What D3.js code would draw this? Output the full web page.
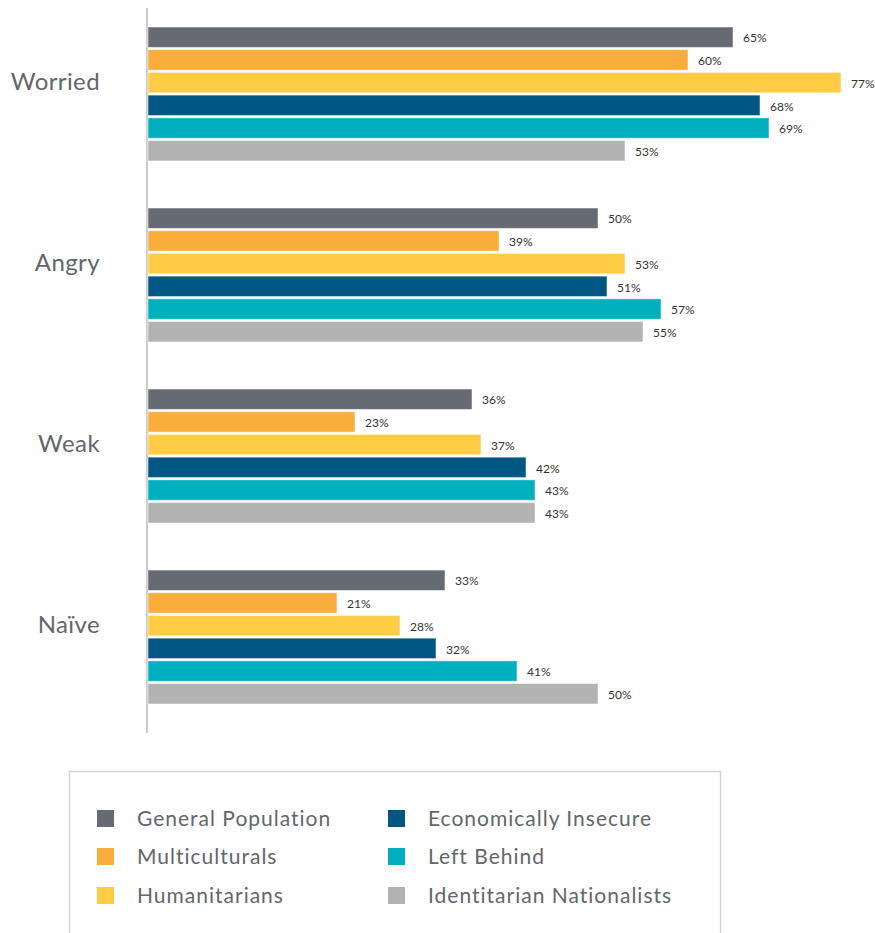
<!DOCTYPE html>
<html>
<head>
<meta charset="utf-8">
<script src="https://cdn.jsdelivr.net/npm/d3@7"></script>
<style>
  body { margin: 0; background: #fff; }
  svg { display: block; font-family: Lato, "Open Sans", sans-serif; }
</style>
</head>
<body>
<div id="chart"></div>
<script>
// --- Data ---
const categories = ["Worried", "Angry", "Weak", "Naïve"];
const series = [
  "General Population",
  "Multiculturals",
  "Humanitarians",
  "Economically Insecure",
  "Left Behind",
  "Identitarian Nationalists"
];
const seriesColors = ["#666b73", "#f9ae3b", "#ffcc44", "#005784", "#00b0bf", "#b3b3b3"];
// values[series][category]
const values = [
  [65, 50, 36, 33],
  [60, 39, 23, 21],
  [77, 53, 37, 28],
  [68, 51, 42, 32],
  [69, 57, 43, 41],
  [53, 55, 43, 50]
];

const width = 875;
const height = 933;

const svg = d3.select("#chart")
  .append("svg")
  .attr("width", width)
  .attr("height", height);

// Scales
const x = d3.scaleLinear().domain([0, 100]).range([148, 1048]);
const y0 = d3.scaleBand().domain(categories).range([27, 704]).paddingInner(0.26).paddingOuter(0);
const y1 = d3.scaleBand().domain(series).range([0, y0.bandwidth()]).paddingInner(0.1);
const color = d3.scaleOrdinal().domain(series).range(seriesColors);

// Vertical axis line
svg.append("line")
  .attr("x1", 147).attr("x2", 147)
  .attr("y1", 8).attr("y2", 733)
  .attr("stroke", "#cccccc")
  .attr("stroke-width", 2);

// Category labels
svg.selectAll(".cat-label")
  .data(categories)
  .enter()
  .append("text")
  .attr("class", "cat-label")
  .attr("x", 100)
  .attr("y", (d) => y0(d) + y0.bandwidth() / 2 - 12)
  .attr("dy", "0.35em")
  .attr("text-anchor", "end")
  .style("font-size", "24px")
  .style("letter-spacing", "0.4px")
  .style("fill", "#63666c")
  .text((d) => d);

// Bars
const rows = [];
series.forEach((s, si) => {
  categories.forEach((c, ci) => {
    rows.push({ series: s, category: c, value: values[si][ci] });
  });
});

const groups = svg.selectAll(".group")
  .data(rows)
  .enter()
  .append("g")
  .attr("class", "group");

groups.append("rect")
  .attr("x", x(0))
  .attr("y", (d) => y0(d.category) + y1(d.series))
  .attr("width", (d) => x(d.value) - x(0))
  .attr("height", y1.bandwidth())
  .attr("fill", (d) => color(d.series))
  .attr("stroke", "#ffffff")
  .attr("stroke-opacity", 0.5)
  .attr("stroke-width", 1);

groups.append("text")
  .attr("x", (d) => x(d.value) + 10)
  .attr("y", (d) => y0(d.category) + y1(d.series) + y1.bandwidth() / 2 + 1)
  .attr("dy", "0.35em")
  .style("font-size", "12px")
  .style("fill", "#333")
  .text((d) => d.value + "%");

// Legend
svg.append("rect")
  .attr("x", 69.5)
  .attr("y", 771.5)
  .attr("width", 651)
  .attr("height", 200)
  .attr("fill", "#fff")
  .attr("stroke", "#d4d4d4")
  .attr("stroke-width", 1.5);

const legendCols = [97, 388];
const legendRows = [819, 857, 896];

const legend = svg.selectAll(".legend-item")
  .data(series)
  .enter()
  .append("g")
  .attr("class", "legend-item")
  .attr("transform", (d, i) =>
    `translate(${legendCols[Math.floor(i / 3)]}, ${legendRows[i % 3]})`);

legend.append("rect")
  .attr("x", 0)
  .attr("y", -9)
  .attr("width", 17)
  .attr("height", 17)
  .attr("fill", (d) => color(d));

legend.append("text")
  .attr("x", 40)
  .attr("y", 0)
  .attr("dy", "0.35em")
  .style("font-size", "21px")
  .style("letter-spacing", "1px")
  .style("fill", "#63666c")
  .text((d) => d);
</script>
</body>
</html>
